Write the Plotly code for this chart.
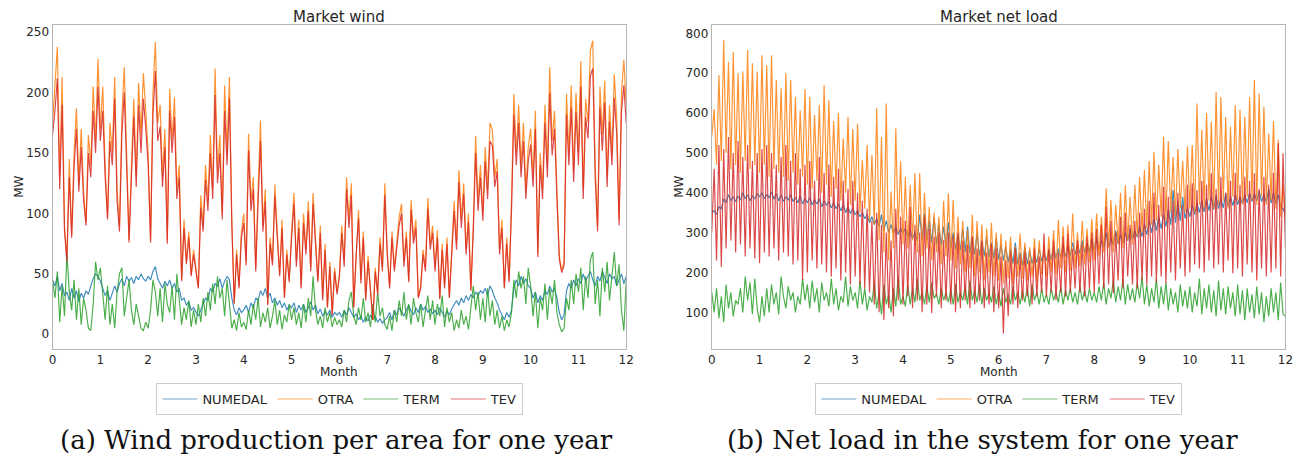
import numpy as np
import plotly.graph_objects as go

# ---------------------------------------------------------------
# Wind production per area [MW], sampled every 0.05 month (Jan..Dec)
# ---------------------------------------------------------------
wind_numedal = [
    45, 40, 48, 36, 42, 32, 35, 28, 38, 30, 36, 27, 34, 30, 36, 33, 40, 46, 50, 48,
    44, 38, 32, 36, 28, 34, 40, 35, 42, 46, 40, 48, 44, 47, 42, 48, 45, 50, 46, 44,
    48, 45, 52, 56, 46, 42, 38, 44, 40, 45, 38, 42, 35, 38, 28, 30, 24, 27, 20, 22,
    18, 15, 20, 25, 30, 28, 38, 35, 42, 40, 46, 38, 44, 48, 45, 30, 20, 16, 22, 18,
    20, 24, 18, 26, 22, 30, 28, 36, 32, 38, 30, 34, 26, 30, 24, 28, 22, 26, 20, 24,
    22, 26, 18, 24, 20, 25, 18, 22, 27, 20, 24, 17, 21, 15, 19, 16, 20, 14, 18, 16,
    18, 14, 20, 16, 22, 18, 14, 17, 12, 15, 10, 14, 11, 16, 12, 15, 10, 13, 9, 12,
    14, 18, 12, 20, 16, 22, 18, 15, 20, 24, 19, 16, 22, 18, 25, 20, 23, 18, 21, 17,
    20, 16, 22, 18, 14, 19, 16, 21, 25, 28, 24, 30, 26, 32, 28, 33, 30, 35, 32, 36,
    34, 38, 32, 40, 36, 30, 26, 20, 16, 12, 18, 14, 20, 38, 45, 40, 48, 42, 46, 40,
    38, 30, 35, 26, 32, 28, 36, 33, 40, 35, 38, 30, 18, 12, 16, 36, 42, 38, 45, 40,
    46, 42, 50, 44, 48, 52, 45, 40, 48, 44, 52, 47, 42, 50, 46, 48, 40, 45, 50, 42,
    48,
]
wind_otra = [
    175, 205, 238, 130, 213, 90, 62, 145, 82, 150, 187, 125, 170, 118, 93, 165, 140, 205, 160, 228,
    170, 205, 140, 97, 175, 150, 213, 120, 89, 180, 221, 150, 78, 140, 195, 130, 208, 165, 216, 185,
    150, 78, 200, 242, 175, 190, 130, 170, 78, 203, 160, 196, 120, 140, 45, 95, 60, 85, 50, 70,
    55, 39, 115, 90, 140, 110, 165, 120, 220, 135, 165, 100, 206, 150, 213, 95, 26, 70, 40, 85,
    100, 60, 166, 110, 130, 55, 120, 177, 90, 120, 25, 80, 60, 124, 85, 50, 95, 31, 70, 45,
    85, 117, 60, 95, 40, 100, 70, 110, 55, 117, 80, 45, 90, 30, 75, 23, 60, 17, 55, 35,
    50, 90, 60, 130, 95, 125, 23, 70, 103, 45, 85, 30, 65, 37, 12, 55, 35, 80, 55, 125,
    70, 40, 85, 55, 75, 97, 108, 60, 85, 45, 111, 80, 95, 31, 40, 70, 55, 113, 75, 90,
    55, 86, 30, 75, 40, 80, 31, 70, 110, 75, 136, 95, 125, 70, 100, 37, 90, 164, 110, 140,
    100, 155, 120, 175, 169, 130, 145, 70, 95, 39, 80, 45, 110, 199, 150, 190, 140, 175, 120, 155,
    170, 130, 185, 67, 150, 120, 190, 140, 221, 160, 185, 120, 65, 53, 60, 199, 150, 206, 135, 200,
    150, 226, 120, 195, 175, 235, 243, 140, 89, 205, 165, 210, 130, 190, 150, 215, 180, 95, 200, 227,
    190,
]
wind_term = [
    45, 30, 52, 10, 40, 15, 67, 35, 20, 45, 12, 38, 8, 30, 20, 5, 3, 25, 60, 45,
    55, 30, 12, 40, 8, 25, 5, 35, 50, 55, 15, 30, 45, 20, 8, 25, 15, 5, 3, 10,
    5, 20, 45, 35, 15, 38, 10, 42, 25, 18, 40, 12, 50, 30, 8, 22, 12, 28, 6, 20,
    8, 25, 10, 30, 15, 35, 20, 42, 25, 48, 30, 38, 15, 45, 22, 5, 12, 3, 18, 6,
    10, 4, 20, 8, 25, 12, 30, 6, 18, 10, 22, 5, 15, 28, 8, 20, 4, 16, 10, 25,
    12, 22, 8, 18, 5, 25, 10, 30, 15, 48, 20, 8, 15, 5, 22, 10, 18, 6, 14, 8,
    12, 6, 20, 10, 28, 35, 15, 8, 22, 12, 30, 10, 18, 6, 25, 10, 35, 15, 22, 8,
    4, 15, 3, 20, 10, 28, 15, 35, 12, 25, 8, 30, 18, 10, 25, 6, 20, 32, 12, 28,
    8, 25, 15, 32, 6, 22, 10, 18, 3, 12, 5, 20, 8, 15, 4, 25, 40, 20, 35, 12,
    30, 10, 38, 15, 28, 8, 20, 5, 15, 3, 12, 6, 18, 45, 30, 52, 38, 48, 25, 55,
    40, 15, 35, 5, 30, 20, 42, 12, 38, 25, 45, 18, 8, 2, 5, 30, 20, 45, 25, 50,
    35, 55, 20, 48, 30, 62, 68, 25, 45, 15, 55, 35, 60, 28, 48, 68, 40, 58, 20, 3,
    45,
]
wind_tev = [
    165, 185, 212, 120, 190, 85, 60, 130, 80, 138, 170, 118, 155, 110, 90, 150, 130, 185, 150, 205,
    160, 185, 130, 95, 160, 140, 195, 110, 85, 165, 200, 140, 76, 130, 180, 122, 190, 150, 195, 170,
    140, 76, 182, 218, 160, 172, 122, 155, 75, 185, 150, 180, 112, 130, 44, 88, 58, 80, 48, 66,
    52, 38, 105, 85, 128, 102, 150, 112, 198, 125, 150, 95, 185, 140, 195, 90, 25, 66, 38, 80,
    92, 57, 152, 102, 120, 52, 110, 160, 85, 110, 24, 75, 57, 115, 80, 48, 88, 30, 66, 43,
    80, 108, 56, 88, 38, 92, 66, 102, 52, 108, 75, 43, 84, 28, 70, 22, 56, 16, 52, 33,
    47, 84, 56, 120, 88, 115, 22, 66, 96, 42, 80, 28, 60, 35, 12, 52, 33, 75, 52, 115,
    66, 38, 80, 52, 70, 90, 100, 56, 80, 43, 103, 75, 88, 30, 38, 66, 52, 104, 70, 84,
    52, 80, 29, 70, 38, 75, 30, 66, 102, 70, 126, 88, 116, 66, 93, 36, 85, 150, 102, 130,
    94, 143, 112, 160, 156, 122, 135, 66, 88, 38, 75, 43, 102, 182, 140, 175, 130, 160, 112, 143,
    157, 122, 170, 64, 140, 112, 175, 130, 200, 148, 170, 112, 62, 51, 57, 182, 140, 188, 126, 184,
    140, 205, 112, 180, 162, 214, 220, 130, 85, 188, 152, 192, 122, 176, 140, 196, 166, 90, 184, 206,
    175,
]

# ---------------------------------------------------------------
# Net load in the system [MW], sampled every 0.05 month
# ---------------------------------------------------------------
load_numedal = [
    350, 355, 345, 365, 360, 385, 375, 395, 380, 390, 378, 392, 382, 400, 385, 395, 380, 392, 385, 398,
    390, 400, 385, 395, 388, 402, 384, 398, 380, 395, 378, 390, 382, 395, 378, 388, 375, 392, 372, 385,
    375, 388, 370, 382, 372, 385, 365, 380, 368, 378, 362, 375, 360, 372, 355, 370, 350, 365, 348, 360,
    345, 355, 340, 350, 335, 345, 325, 340, 320, 335, 315, 345, 305, 330, 300, 320, 298, 315, 295, 310,
    300, 310, 290, 305, 285, 300, 280, 345, 282, 348, 280, 330, 275, 340, 270, 320, 268, 315, 262, 325,
    260, 300, 258, 295, 255, 310, 250, 315, 248, 290, 245, 300, 242, 280, 240, 290, 238, 275, 235, 285,
    232, 270, 230, 265, 225, 260, 222, 275, 220, 250, 218, 265, 220, 255, 222, 245, 225, 260, 228, 250,
    230, 255, 232, 265, 235, 260, 238, 270, 240, 265, 242, 275, 245, 270, 248, 280, 250, 275, 252, 285,
    255, 290, 258, 280, 262, 300, 265, 285, 270, 305, 272, 295, 275, 300, 280, 310, 283, 305, 288, 315,
    290, 320, 295, 330, 300, 335, 305, 340, 310, 345, 315, 360, 320, 407, 325, 380, 330, 390, 335, 360,
    340, 370, 345, 375, 350, 380, 352, 385, 355, 390, 358, 395, 360, 385, 362, 400, 365, 390, 368, 395,
    370, 390, 372, 395, 375, 400, 378, 398, 380, 405, 378, 395, 376, 410, 374, 400, 372, 395, 365, 360,
    345,
]
load_otra = [
    540, 610, 470, 695, 480, 783, 500, 729, 460, 754, 470, 700, 450, 704, 480, 758, 460, 725, 470, 704,
    450, 745, 470, 720, 440, 745, 460, 683, 450, 662, 440, 700, 430, 683, 450, 640, 420, 607, 440, 660,
    420, 640, 410, 595, 430, 620, 400, 670, 420, 632, 390, 580, 410, 600, 380, 537, 400, 590, 370, 560,
    380, 574, 350, 482, 360, 520, 330, 495, 320, 612, 280, 540, 250, 624, 230, 403, 260, 562, 300, 480,
    270, 440, 260, 420, 280, 449, 250, 449, 240, 400, 260, 365, 230, 350, 250, 340, 220, 380, 240, 398,
    230, 382, 210, 340, 220, 330, 200, 307, 210, 345, 190, 330, 200, 320, 180, 310, 200, 325, 190, 300,
    180, 298, 173, 280, 185, 290, 170, 265, 190, 298, 185, 275, 180, 263, 190, 285, 175, 281, 195, 270,
    190, 290, 200, 306, 195, 332, 210, 315, 200, 320, 205, 348, 210, 300, 215, 330, 220, 310, 225, 335,
    230, 348, 240, 340, 250, 411, 260, 382, 250, 370, 270, 400, 260, 419, 280, 390, 270, 420, 290, 440,
    300, 457, 310, 480, 320, 503, 330, 470, 340, 541, 330, 530, 350, 490, 340, 510, 360, 480, 350, 516,
    360, 520, 350, 624, 370, 558, 360, 600, 380, 579, 360, 653, 370, 640, 380, 590, 360, 566, 390, 620,
    380, 608, 370, 591, 390, 640, 380, 683, 370, 649, 390, 616, 370, 549, 380, 580, 360, 533, 340, 420,
    330,
]
load_term = [
    150, 100, 160, 85, 140, 75, 170, 110, 150, 90, 130, 120, 160, 100, 190, 130, 175, 95, 185, 110,
    75, 140, 90, 160, 100, 170, 120, 150, 95, 190, 140, 110, 165, 130, 150, 100, 140, 120, 185, 130,
    170, 110, 180, 125, 160, 100, 175, 130, 150, 115, 185, 120, 160, 105, 140, 125, 190, 115, 165, 130,
    150, 110, 180, 120, 160, 105, 140, 125, 175, 110, 150, 95, 170, 120, 145, 100, 160, 115, 190, 120,
    140, 115, 170, 120, 160, 125, 185, 130, 150, 120, 165, 125, 175, 135, 145, 120, 160, 130, 150, 125,
    155, 120, 170, 125, 150, 130, 165, 120, 180, 130, 155, 125, 170, 120, 160, 130, 150, 125, 165, 120,
    150, 115, 160, 125, 145, 120, 165, 130, 150, 120, 155, 125, 160, 115, 170, 130, 150, 120, 160, 125,
    145, 120, 160, 130, 150, 125, 165, 120, 155, 130, 160, 125, 150, 120, 165, 130, 155, 125, 160, 130,
    150, 125, 165, 130, 175, 120, 160, 135, 180, 125, 165, 130, 185, 120, 170, 130, 160, 125, 175, 135,
    190, 120, 170, 115, 160, 125, 185, 110, 165, 120, 175, 105, 160, 120, 150, 100, 170, 115, 155, 110,
    165, 100, 150, 115, 185, 95, 160, 110, 170, 100, 155, 90, 180, 105, 160, 95, 165, 110, 150, 90,
    170, 95, 155, 80, 160, 100, 145, 85, 165, 95, 150, 75, 140, 90, 160, 100, 150, 80, 175, 95,
    90,
]
load_tev = [
    300, 460, 230, 520, 214, 510, 260, 540, 280, 500, 250, 530, 270, 490, 240, 520, 260, 480, 235, 500,
    223, 510, 250, 520, 240, 500, 260, 470, 230, 490, 250, 520, 240, 480, 220, 500, 230, 460, 181, 470,
    200, 480, 230, 430, 210, 490, 220, 450, 200, 470, 190, 440, 210, 460, 180, 430, 200, 410, 170, 430,
    190, 400, 170, 380, 160, 360, 150, 330, 120, 350, 100, 320, 81, 300, 110, 280, 90, 360, 130, 340,
    120, 330, 140, 365, 110, 320, 130, 300, 100, 340, 120, 310, 98, 290, 140, 300, 110, 281, 130, 300,
    120, 290, 100, 300, 110, 280, 130, 270, 110, 290, 120, 260, 130, 280, 110, 250, 120, 270, 100, 260,
    110, 240, 47, 230, 90, 250, 120, 260, 110, 240, 130, 250, 140, 230, 120, 260, 140, 240, 150, 298,
    140, 260, 150, 280, 131, 250, 150, 290, 140, 298, 150, 260, 160, 280, 150, 270, 140, 290, 160, 300,
    150, 310, 170, 320, 160, 365, 170, 330, 148, 300, 180, 340, 160, 350, 190, 320, 170, 330, 160, 350,
    180, 360, 170, 380, 190, 400, 175, 370, 190, 415, 173, 390, 200, 380, 180, 400, 210, 370, 190, 420,
    200, 424, 220, 407, 210, 430, 200, 420, 230, 449, 210, 410, 220, 440, 200, 400, 230, 430, 198, 450,
    210, 420, 190, 440, 220, 430, 200, 449, 180, 410, 210, 440, 190, 420, 200, 450, 210, 524, 190, 499,
    260,
]

areas = ["NUMEDAL", "OTRA", "TERM", "TEV"]
colors = ["#1f77b4", "#ff7f0e", "#2ca02c", "#d62728"]
# same hues washed out towards white, for the legend samples
pale = ["#b8d3e7", "#ffd5b0", "#badfba", "#f2b8b9"]

W, H = 1309, 462
FONT = "DejaVu Sans"
TXT = "#262626"


def px_x(p):
    return p / W


def px_y(p):
    return 1 - p / H


fig = go.Figure()

panels = [
    ("x", "y", "legend", [wind_numedal, wind_otra, wind_term, wind_tev]),
    ("x2", "y2", "legend2", [load_numedal, load_otra, load_term, load_tev]),
]
for xa, ya, leg, series in panels:
    for name, col, vals in zip(areas, colors, series):
        months = np.linspace(0, 12, len(vals))
        fig.add_trace(go.Scatter(
            x=months, y=vals, mode="lines", name=name,
            line=dict(color=col, width=1.15), opacity=0.85,
            xaxis=xa, yaxis=ya, showlegend=False, hoverinfo="skip",
        ))
    # legend entries with pale line samples
    for name, pcol in zip(areas, pale):
        fig.add_trace(go.Scatter(
            x=[None], y=[None], mode="lines", name=name,
            line=dict(color=pcol, width=2),
            xaxis=xa, yaxis=ya, legend=leg, showlegend=True,
        ))

axis_common = dict(
    showgrid=False, zeroline=False, showline=True, mirror=True,
    linecolor="#b5b5b5", linewidth=1, ticks="",
    tickfont=dict(family=FONT, size=12, color=TXT),
)
top, bottom = 25, 349
legend_common = dict(
    orientation="h", xanchor="center", yanchor="middle",
    bordercolor="#cccccc", borderwidth=1, bgcolor="white", itemwidth=35,
    font=dict(family=FONT, size=13, color=TXT),
)
fig.update_layout(
    width=W, height=H,
    margin=dict(l=0, r=0, t=0, b=0),
    paper_bgcolor="white", plot_bgcolor="white",
    font=dict(family=FONT, color=TXT),
    xaxis=dict(domain=[px_x(49), px_x(628)], range=[0, 12],
               tickvals=list(range(13)), anchor="y", **axis_common),
    yaxis=dict(domain=[px_y(bottom), px_y(top)], range=[-12.2, 256],
               tickvals=[0, 50, 100, 150, 200, 250], anchor="x", **axis_common),
    xaxis2=dict(domain=[px_x(714.3), px_x(1293.3)], range=[0, 12],
                tickvals=list(range(13)), anchor="y2", **axis_common),
    yaxis2=dict(domain=[px_y(bottom), px_y(top)], range=[8, 821],
                tickvals=[100, 200, 300, 400, 500, 600, 700, 800], anchor="x2",
                **axis_common),
    legend=dict(x=px_x(339), y=px_y(399), **legend_common),
    legend2=dict(x=px_x(1004), y=px_y(399), **legend_common),
)

ann = [
    dict(text="Market wind", x=px_x(338.5), y=px_y(17)),
    dict(text="Market net load", x=px_x(1004), y=px_y(17)),
]
for a in ann:
    a.update(xref="paper", yref="paper", showarrow=False,
             xanchor="center", yanchor="middle",
             font=dict(family=FONT, size=15, color=TXT))
labels = [
    dict(text="Month", x=px_x(338.5), y=px_y(372)),
    dict(text="Month", x=px_x(1004), y=px_y(372)),
    dict(text="MW", x=px_x(15), y=px_y(187), textangle=-90),
    dict(text="MW", x=px_x(681), y=px_y(187), textangle=-90),
]
for a in labels:
    a.update(xref="paper", yref="paper", showarrow=False,
             xanchor="center", yanchor="middle",
             font=dict(family=FONT, size=12, color=TXT))
captions = [
    dict(text="(a) Wind production per area for one year", x=px_x(336), y=px_y(440)),
    dict(text="(b) Net load in the system for one year", x=px_x(988), y=px_y(440)),
]
for a in captions:
    a.update(xref="paper", yref="paper", showarrow=False,
             xanchor="center", yanchor="middle",
             font=dict(family="DejaVu Serif", size=26, color="#111111"))
fig.update_layout(annotations=ann + labels + captions)

fig.write_html("out.html")
